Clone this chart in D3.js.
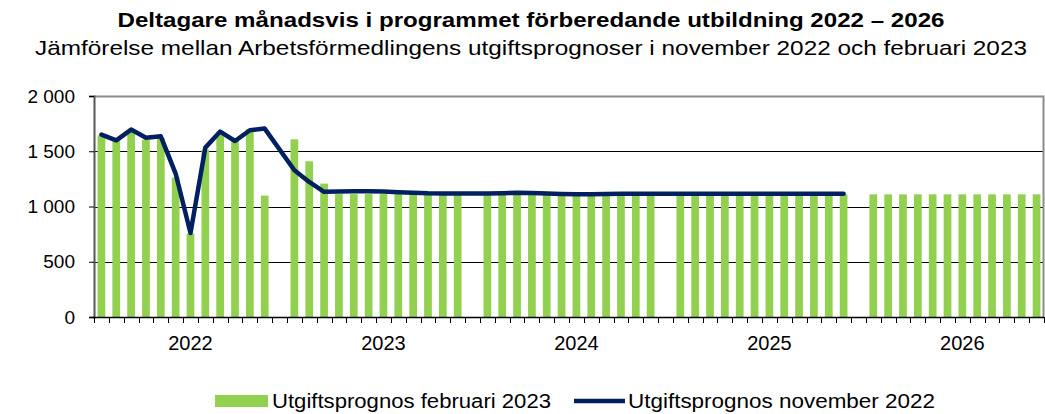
<!DOCTYPE html>
<html>
<head>
<meta charset="utf-8">
<script src="https://cdn.jsdelivr.net/npm/d3@7"></script>
<style>
  body { margin: 0; background: #fff; }
  text { font-family: "Liberation Sans", Arial, sans-serif; }
</style>
</head>
<body>
<div id="chart"></div>
<script>
//Width and height
var w = 1045;
var h = 414;

//Data
var years = ["2022", "2023", "2024", "2025", "2026"];
var monthsPerYear = 12;

// Utgiftsprognos februari 2023 (bars), Jan 2022 - Dec 2026
var prognosFeb2023 = [
  1643, 1593, 1680, 1605, 1620, 1262, 755, 1515, 1660, 1593, 1700, 1099,
  1608, 1409, 1207, 1112, 1112, 1112, 1112, 1112, 1110, 1110, 1110, 1110,
  1110, 1110, 1110, 1110, 1110, 1110, 1110, 1110, 1110, 1110, 1110, 1110,
  1110, 1110, 1110, 1110, 1110, 1110, 1110, 1110, 1110, 1110, 1110, 1110,
  1110, 1110, 1110, 1110, 1110, 1110, 1110, 1110, 1110, 1110, 1110, 1110
];

// Utgiftsprognos november 2022 (line), Jan 2022 - Dec 2025
var prognosNov2022 = [
  1651, 1599, 1696, 1623, 1635, 1298, 760, 1533, 1678, 1593, 1690, 1705,
  1328, 1222, 1133, 1136, 1137, 1137, 1135, 1130, 1125, 1120, 1118, 1118,
  1117, 1120, 1125, 1122, 1117, 1113, 1111, 1111, 1113, 1115, 1115, 1115,
  1115, 1115, 1115, 1115, 1115, 1115, 1115, 1115, 1115, 1115, 1115, 1115
];

var yTicks = [0, 500, 1000, 1500, 2000];

var seriesNames = ["Utgiftsprognos februari 2023", "Utgiftsprognos november 2022"];
var colors = ["#92d050", "#002060"];

// every year gets 12 month slots plus one empty slot after it (not after the last)
var slots = [];
years.forEach(function(y, yi) {
  for (var m = 0; m < monthsPerYear; m++) slots.push(y + "-" + m);
  if (yi < years.length - 1) slots.push(y + "-gap");
});
function slotOf(i) {
  return years[Math.floor(i / monthsPerYear)] + "-" + (i % monthsPerYear);
}

var margin = {left: 94, right: 1, top: 96, bottom: 317};

//Create scale functions
var xScale = d3.scaleBand()
  .domain(slots)
  .range([margin.left, w - margin.right])
  .paddingInner(0.48)
  .paddingOuter(0.24);

var yScale = d3.scaleLinear()
  .domain([0, 2000])
  .range([margin.bottom, margin.top]);

var locale = d3.formatLocale({decimal: ",", thousands: " ", grouping: [3], currency: ["", " kr"]});
var fmt = locale.format(",d");

//Create SVG element
var svg = d3.select("#chart")
  .append("svg")
  .attr("width", w)
  .attr("height", h);

//Title
svg.append("text")
  .attr("x", 531)
  .attr("y", 27)
  .attr("text-anchor", "middle")
  .attr("font-size", "21px")
  .attr("font-weight", "bold")
  .attr("textLength", 827)
  .attr("lengthAdjust", "spacingAndGlyphs")
  .text("Deltagare månadsvis i programmet förberedande utbildning 2022 – 2026");

svg.append("text")
  .attr("x", 531)
  .attr("y", 55)
  .attr("text-anchor", "middle")
  .attr("font-size", "21px")
  .attr("textLength", 992)
  .attr("lengthAdjust", "spacingAndGlyphs")
  .text("Jämförelse mellan Arbetsförmedlingens utgiftsprognoser i november 2022 och februari 2023");

//Gridlines
svg.append("g")
  .selectAll("line")
  .data(yTicks.slice(1, -1))
  .enter()
  .append("line")
  .attr("x1", margin.left)
  .attr("x2", w - margin.right)
  .attr("y1", function(d) { return Math.round(yScale(d)) + 0.5; })
  .attr("y2", function(d) { return Math.round(yScale(d)) + 0.5; })
  .attr("stroke", "#000")
  .attr("stroke-width", 1);

//Plot border (top and right)
svg.append("path")
  .attr("d", "M" + margin.left + "," + (yScale(2000) + 0.5) + "H" + (w - margin.right - 0.5) + "V" + yScale(0))
  .attr("fill", "none")
  .attr("stroke", "#8c8c8c")
  .attr("stroke-width", 2);

//Create bars
svg.append("g")
  .selectAll("rect")
  .data(prognosFeb2023)
  .enter()
  .append("rect")
  .attr("x", function(d, i) { return xScale(slotOf(i)); })
  .attr("y", function(d) { return yScale(d); })
  .attr("width", xScale.bandwidth())
  .attr("height", function(d) { return yScale(0) - yScale(d); })
  .attr("fill", colors[0]);

//Create line
var line = d3.line()
  .x(function(d, i) { return xScale(slotOf(i)) + xScale.bandwidth() / 2; })
  .y(function(d) { return yScale(d); });

svg.append("path")
  .datum(prognosNov2022)
  .attr("d", line)
  .attr("fill", "none")
  .attr("stroke", colors[1])
  .attr("stroke-width", 4.5)
  .attr("stroke-linejoin", "round")
  .attr("stroke-linecap", "round");

//Define Y axis
var yAxis = d3.axisLeft(yScale)
  .tickValues(yTicks)
  .tickSize(5)
  .tickPadding(14)
  .tickFormat(fmt);

var gy = svg.append("g")
  .attr("class", "y axis")
  .attr("transform", "translate(" + margin.left + ",0)")
  .call(yAxis);
gy.select(".domain").attr("stroke", "#555").attr("stroke-width", 2);
gy.selectAll(".tick line").attr("stroke", "#000");
gy.selectAll("text")
  .attr("font-family", "Liberation Sans, Arial, sans-serif")
  .attr("font-size", "19px")
  .attr("fill", "#000");

//Define X axis: a tick at every slot boundary
var step = xScale.step();
var boundaries = d3.range(slots.length + 1).map(function(i) { return margin.left + i * step; });

var gx = svg.append("g").attr("class", "x axis");
gx.append("line")
  .attr("x1", margin.left - 1)
  .attr("x2", w - margin.right)
  .attr("y1", yScale(0) + 0.5)
  .attr("y2", yScale(0) + 0.5)
  .attr("stroke", "#000")
  .attr("stroke-width", 1.5);
gx.selectAll(".xtick")
  .data(boundaries)
  .enter()
  .append("line")
  .attr("class", "xtick")
  .attr("x1", function(d) { return Math.round(d) + 0.5; })
  .attr("x2", function(d) { return Math.round(d) + 0.5; })
  .attr("y1", yScale(0))
  .attr("y2", yScale(0) + 6)
  .attr("stroke", "#000");

//Year labels, centred on each 13-slot group
gx.selectAll(".year")
  .data(years)
  .enter()
  .append("text")
  .attr("class", "year")
  .attr("x", function(d) { return xScale(d + "-0") - xScale.step() * xScale.paddingOuter() + step * 6.5; })
  .attr("y", 350)
  .attr("text-anchor", "middle")
  .attr("font-size", "20px")
  .text(function(d) { return d; });

//Legend
var legend = svg.append("g");
legend.append("rect")
  .attr("x", 215)
  .attr("y", 395)
  .attr("width", 53)
  .attr("height", 12)
  .attr("fill", colors[0]);
legend.append("text")
  .attr("x", 272)
  .attr("y", 408)
  .attr("font-size", "20px")
  .attr("textLength", 279)
  .attr("lengthAdjust", "spacingAndGlyphs")
  .text(seriesNames[0]);
legend.append("line")
  .attr("x1", 574)
  .attr("x2", 625)
  .attr("y1", 401)
  .attr("y2", 401)
  .attr("stroke", colors[1])
  .attr("stroke-width", 4.5);
legend.append("text")
  .attr("x", 628)
  .attr("y", 408)
  .attr("font-size", "20px")
  .attr("textLength", 307)
  .attr("lengthAdjust", "spacingAndGlyphs")
  .text(seriesNames[1]);
</script>
</body>
</html>
